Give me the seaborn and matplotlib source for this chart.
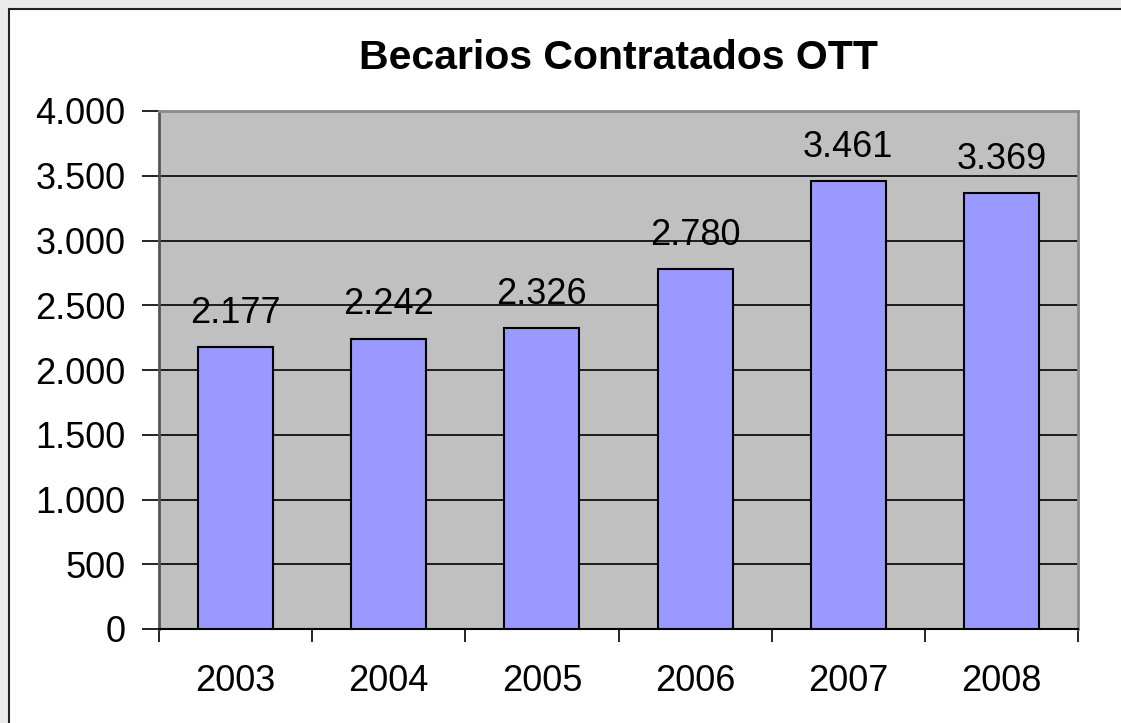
import matplotlib
matplotlib.use("Agg")
import matplotlib.pyplot as plt
import seaborn as sns
import pandas as pd
from matplotlib.patches import Rectangle
from matplotlib.ticker import FixedLocator, FuncFormatter

years = ["2003", "2004", "2005", "2006", "2007", "2008"]
becarios = [2177, 2242, 2326, 2780, 3461, 3369]
yticks = [0, 500, 1000, 1500, 2000, 2500, 3000, 3500, 4000]

df = pd.DataFrame({"year": years, "becarios": becarios})

sns.set_style("white")
plt.rcParams["font.family"] = ["Liberation Sans", "DejaVu Sans"]
plt.rcParams["text.color"] = "black"
plt.rcParams["xtick.color"] = "black"
plt.rcParams["ytick.color"] = "black"

fig = plt.figure(figsize=(11.21, 7.23), dpi=100)
fig.patch.set_facecolor("#EBEBEB")
# white chart area with dark frame
fig.patches.append(Rectangle((9 / 1121, -0.01), 1.0, 1 - 9 / 723 + 0.01,
                             transform=fig.transFigure, facecolor="white",
                             edgecolor="#222222", linewidth=1.5, zorder=-10))

ax = fig.add_axes([159 / 1121, 1 - 629 / 723, (1078 - 159) / 1121, (629 - 111) / 723])
ax.set_zorder(5)
ax.set_facecolor("#C0C0C0")

sns.barplot(data=df, x="year", y="becarios", color="#9999FF", width=0.49,
            edgecolor="black", linewidth=1.5, saturation=1, ax=ax, zorder=3)

ax.set_ylim(0, 4000)
ax.set_xlim(-0.5, len(years) - 0.5)
ax.set_yticks(yticks)
ax.yaxis.set_major_formatter(FuncFormatter(lambda v, p: f"{int(v):,}".replace(",", ".")))
ax.grid(axis="y", color="black", linewidth=1.2, zorder=1)
ax.set_axisbelow(True)

ax.tick_params(axis="y", which="major", direction="out", length=12, width=1.2,
               color="black", pad=12, labelsize=26, left=True, labelcolor="black")
ax.tick_params(axis="x", which="major", length=0, pad=25.5, labelsize=26, labelcolor="black")
ax.xaxis.set_minor_locator(FixedLocator([i - 0.5 for i in range(len(years) + 1)]))
ax.tick_params(axis="x", which="minor", direction="out", length=9, width=1.2,
               color="black", bottom=True)

ax.set_xlabel("")
ax.set_ylabel("")

for side in ["top", "right"]:
    ax.spines[side].set_color("#8A8A8A")
    ax.spines[side].set_linewidth(2)
ax.spines["left"].set_color("#555555")
ax.spines["left"].set_linewidth(2)
ax.spines["bottom"].set_color("black")
ax.spines["bottom"].set_linewidth(1.5)

for i, v in enumerate(becarios):
    ax.text(i, v + 125, f"{v:,}".replace(",", "."), ha="center", va="bottom",
            fontsize=26, color="black", zorder=4)

fig.text((159 + 1078) / 2 / 1121, 1 - 58 / 723, "Becarios Contratados OTT",
         ha="center", va="center", fontsize=29.5, fontweight="bold", color="black")

fig.savefig("out.png", dpi=100, facecolor=fig.get_facecolor())
